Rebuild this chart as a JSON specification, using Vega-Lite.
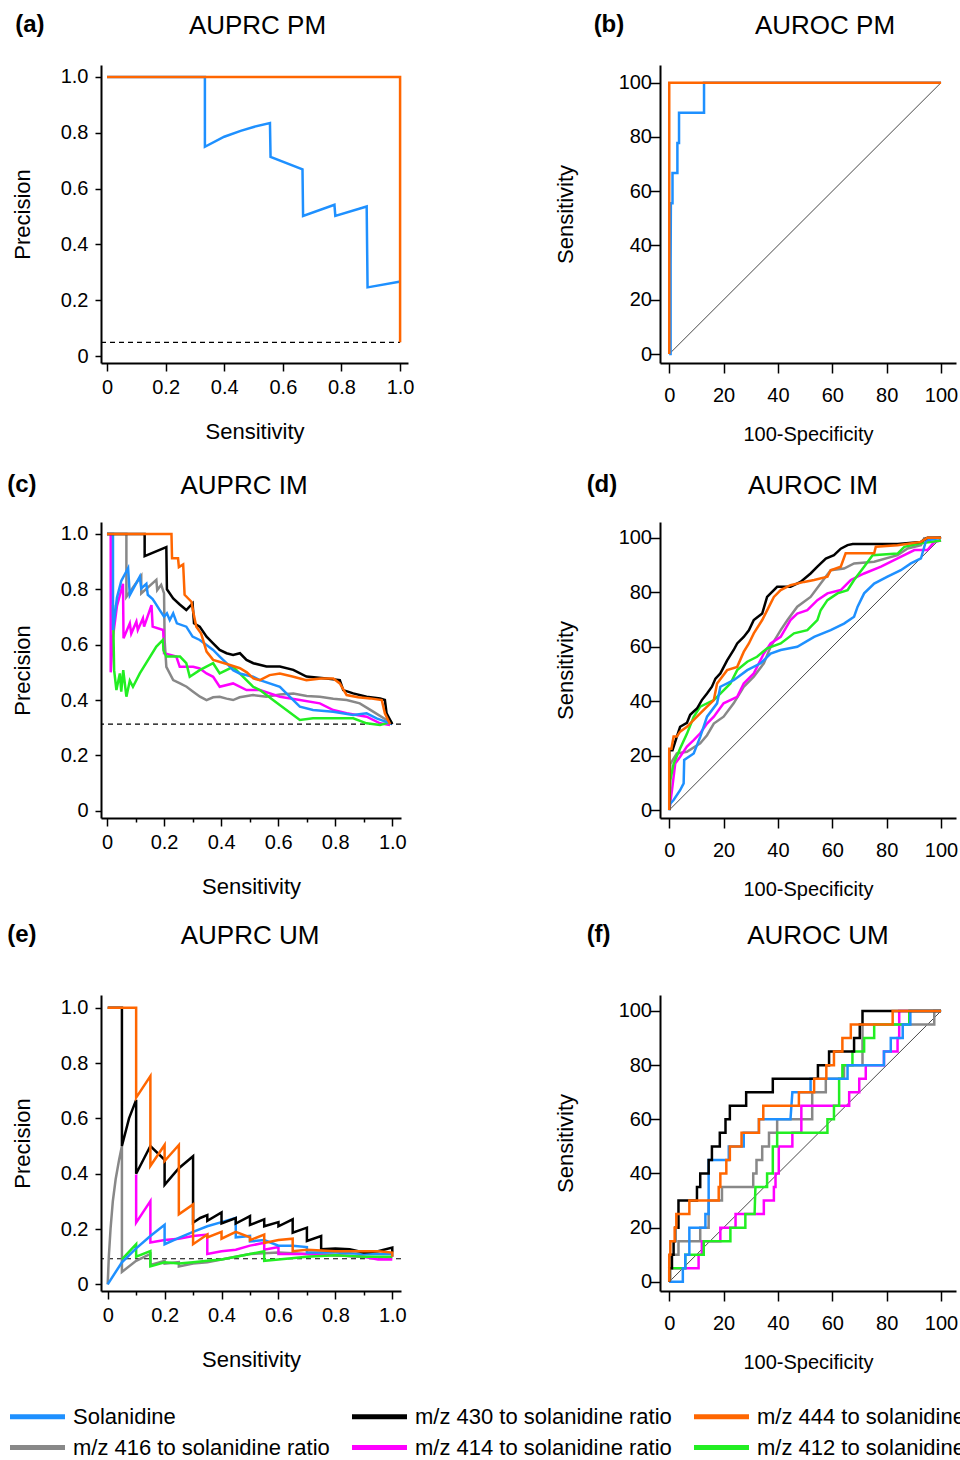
{
"$schema": "https://vega.github.io/schema/vega-lite/v6.json",
"padding": {"left": 7, "top": 13, "right": 5, "bottom": 5},
"config": {
 "font": "Liberation Sans",
 "view": {"stroke": null},
 "axis": {"grid": false, "domainColor": "#000", "domainWidth": 2, "tickColor": "#000", "tickWidth": 1.5, "labelFont": "Liberation Sans", "labelFontSize": 20, "labelColor": "#000", "titleFont": "Liberation Sans", "titleFontSize": 22, "titleFontWeight": "normal", "titleColor": "#000", "labelFlush": false, "labelOverlap": false},
 "title": {"font": "Liberation Sans", "color": "#000"}
},
"datasets": {
 "a": [
  {"s":"sol","x":0,"y":1},{"s":"sol","x":0.334,"y":1},{"s":"sol","x":0.334,"y":0.75},{"s":"sol","x":0.4,"y":0.786},{"s":"sol","x":0.456,"y":0.807},{"s":"sol","x":0.5,"y":0.821},{"s":"sol","x":0.556,"y":0.835},{"s":"sol","x":0.558,"y":0.714},{"s":"sol","x":0.667,"y":0.669},{"s":"sol","x":0.669,"y":0.502},{"s":"sol","x":0.776,"y":0.542},{"s":"sol","x":0.779,"y":0.502},{"s":"sol","x":0.886,"y":0.536},{"s":"sol","x":0.889,"y":0.246},{"s":"sol","x":0.997,"y":0.266},
  {"s":"444","x":0,"y":1},{"s":"444","x":1,"y":1},{"s":"444","x":1,"y":0.049}
 ],
 "b": [
  {"s":"sol","x":0,"y":0},{"s":"sol","x":0.5,"y":0},{"s":"sol","x":0.5,"y":33},{"s":"sol","x":0.6,"y":55.6},{"s":"sol","x":1.2,"y":55.6},{"s":"sol","x":1.2,"y":66.7},{"s":"sol","x":3,"y":66.7},{"s":"sol","x":3,"y":77.8},{"s":"sol","x":3.6,"y":77.8},{"s":"sol","x":3.6,"y":88.9},{"s":"sol","x":12.8,"y":88.9},{"s":"sol","x":12.8,"y":100},{"s":"sol","x":100,"y":100},
  {"s":"444","x":0,"y":0},{"s":"444","x":0,"y":100},{"s":"444","x":100,"y":100}
 ],
 "c": [
  {"s":"416","x":0,"y":1},{"s":"416","x":0.068,"y":1},{"s":"416","x":0.068,"y":0.773},{"s":"416","x":0.12,"y":0.848},{"s":"416","x":0.12,"y":0.785},{"s":"416","x":0.173,"y":0.834},{"s":"416","x":0.176,"y":0.797},{"s":"416","x":0.19,"y":0.816},{"s":"416","x":0.2,"y":0.785},{"s":"416","x":0.202,"y":0.617},{"s":"416","x":0.208,"y":0.52},{"s":"416","x":0.232,"y":0.472},{"s":"416","x":0.256,"y":0.46},{"s":"416","x":0.279,"y":0.448},{"s":"416","x":0.302,"y":0.43},{"s":"416","x":0.326,"y":0.412},{"s":"416","x":0.349,"y":0.4},{"s":"416","x":0.372,"y":0.41},{"s":"416","x":0.395,"y":0.412},{"s":"416","x":0.419,"y":0.405},{"s":"416","x":0.442,"y":0.4},{"s":"416","x":0.465,"y":0.41},{"s":"416","x":0.512,"y":0.418},{"s":"416","x":0.559,"y":0.412},{"s":"416","x":0.606,"y":0.42},{"s":"416","x":0.653,"y":0.424},{"s":"416","x":0.7,"y":0.415},{"s":"416","x":0.746,"y":0.412},{"s":"416","x":0.793,"y":0.405},{"s":"416","x":0.84,"y":0.4},{"s":"416","x":0.886,"y":0.388},{"s":"416","x":0.933,"y":0.358},{"s":"416","x":0.98,"y":0.328},{"s":"416","x":1,"y":0.313},
  {"s":"414","x":0.013,"y":1},{"s":"414","x":0.013,"y":0.5},{"s":"414","x":0.02,"y":0.62},{"s":"414","x":0.035,"y":0.74},{"s":"414","x":0.056,"y":0.82},{"s":"414","x":0.058,"y":0.623},{"s":"414","x":0.08,"y":0.677},{"s":"414","x":0.085,"y":0.64},{"s":"414","x":0.103,"y":0.683},{"s":"414","x":0.108,"y":0.653},{"s":"414","x":0.126,"y":0.695},{"s":"414","x":0.13,"y":0.665},{"s":"414","x":0.156,"y":0.743},{"s":"414","x":0.16,"y":0.665},{"s":"414","x":0.197,"y":0.653},{"s":"414","x":0.2,"y":0.569},{"s":"414","x":0.243,"y":0.557},{"s":"414","x":0.255,"y":0.52},{"s":"414","x":0.302,"y":0.52},{"s":"414","x":0.325,"y":0.514},{"s":"414","x":0.349,"y":0.496},{"s":"414","x":0.372,"y":0.484},{"s":"414","x":0.395,"y":0.448},{"s":"414","x":0.442,"y":0.46},{"s":"414","x":0.489,"y":0.436},{"s":"414","x":0.536,"y":0.436},{"s":"414","x":0.606,"y":0.412},{"s":"414","x":0.676,"y":0.4},{"s":"414","x":0.746,"y":0.388},{"s":"414","x":0.793,"y":0.364},{"s":"414","x":0.84,"y":0.352},{"s":"414","x":0.91,"y":0.34},{"s":"414","x":0.957,"y":0.316},{"s":"414","x":0.992,"y":0.31},
  {"s":"412","x":0.021,"y":0.743},{"s":"412","x":0.025,"y":0.508},{"s":"412","x":0.033,"y":0.436},{"s":"412","x":0.045,"y":0.496},{"s":"412","x":0.05,"y":0.43},{"s":"412","x":0.057,"y":0.508},{"s":"412","x":0.068,"y":0.412},{"s":"412","x":0.08,"y":0.47},{"s":"412","x":0.091,"y":0.448},{"s":"412","x":0.115,"y":0.496},{"s":"412","x":0.173,"y":0.593},{"s":"412","x":0.196,"y":0.617},{"s":"412","x":0.198,"y":0.58},{"s":"412","x":0.208,"y":0.557},{"s":"412","x":0.256,"y":0.557},{"s":"412","x":0.278,"y":0.533},{"s":"412","x":0.29,"y":0.484},{"s":"412","x":0.325,"y":0.508},{"s":"412","x":0.372,"y":0.533},{"s":"412","x":0.395,"y":0.496},{"s":"412","x":0.442,"y":0.52},{"s":"412","x":0.465,"y":0.496},{"s":"412","x":0.512,"y":0.448},{"s":"412","x":0.536,"y":0.436},{"s":"412","x":0.582,"y":0.4},{"s":"412","x":0.629,"y":0.364},{"s":"412","x":0.676,"y":0.328},{"s":"412","x":0.722,"y":0.334},{"s":"412","x":0.793,"y":0.334},{"s":"412","x":0.863,"y":0.334},{"s":"412","x":0.91,"y":0.316},{"s":"412","x":0.957,"y":0.31},{"s":"412","x":1,"y":0.322},
  {"s":"sol","x":0,"y":1},{"s":"sol","x":0.021,"y":1},{"s":"sol","x":0.021,"y":0.653},{"s":"sol","x":0.035,"y":0.77},{"s":"sol","x":0.05,"y":0.83},{"s":"sol","x":0.074,"y":0.876},{"s":"sol","x":0.08,"y":0.779},{"s":"sol","x":0.115,"y":0.846},{"s":"sol","x":0.12,"y":0.803},{"s":"sol","x":0.138,"y":0.82},{"s":"sol","x":0.143,"y":0.78},{"s":"sol","x":0.16,"y":0.765},{"s":"sol","x":0.17,"y":0.749},{"s":"sol","x":0.185,"y":0.725},{"s":"sol","x":0.2,"y":0.701},{"s":"sol","x":0.21,"y":0.713},{"s":"sol","x":0.22,"y":0.689},{"s":"sol","x":0.232,"y":0.713},{"s":"sol","x":0.245,"y":0.677},{"s":"sol","x":0.278,"y":0.665},{"s":"sol","x":0.3,"y":0.629},{"s":"sol","x":0.325,"y":0.617},{"s":"sol","x":0.349,"y":0.599},{"s":"sol","x":0.372,"y":0.581},{"s":"sol","x":0.395,"y":0.557},{"s":"sol","x":0.419,"y":0.533},{"s":"sol","x":0.442,"y":0.508},{"s":"sol","x":0.465,"y":0.496},{"s":"sol","x":0.512,"y":0.484},{"s":"sol","x":0.536,"y":0.472},{"s":"sol","x":0.606,"y":0.448},{"s":"sol","x":0.629,"y":0.424},{"s":"sol","x":0.676,"y":0.376},{"s":"sol","x":0.722,"y":0.364},{"s":"sol","x":0.793,"y":0.358},{"s":"sol","x":0.863,"y":0.346},{"s":"sol","x":0.91,"y":0.352},{"s":"sol","x":0.945,"y":0.334},{"s":"sol","x":1,"y":0.313},
  {"s":"430","x":0,"y":1},{"s":"430","x":0.132,"y":1},{"s":"430","x":0.132,"y":0.92},{"s":"430","x":0.208,"y":0.952},{"s":"430","x":0.21,"y":0.8},{"s":"430","x":0.232,"y":0.767},{"s":"430","x":0.255,"y":0.745},{"s":"430","x":0.278,"y":0.725},{"s":"430","x":0.3,"y":0.749},{"s":"430","x":0.305,"y":0.677},{"s":"430","x":0.325,"y":0.665},{"s":"430","x":0.349,"y":0.629},{"s":"430","x":0.372,"y":0.605},{"s":"430","x":0.395,"y":0.581},{"s":"430","x":0.419,"y":0.569},{"s":"430","x":0.442,"y":0.563},{"s":"430","x":0.466,"y":0.569},{"s":"430","x":0.489,"y":0.545},{"s":"430","x":0.513,"y":0.533},{"s":"430","x":0.559,"y":0.521},{"s":"430","x":0.606,"y":0.521},{"s":"430","x":0.653,"y":0.509},{"s":"430","x":0.699,"y":0.485},{"s":"430","x":0.769,"y":0.478},{"s":"430","x":0.816,"y":0.472},{"s":"430","x":0.828,"y":0.436},{"s":"430","x":0.863,"y":0.424},{"s":"430","x":0.91,"y":0.412},{"s":"430","x":0.957,"y":0.406},{"s":"430","x":0.974,"y":0.4},{"s":"430","x":0.98,"y":0.352},{"s":"430","x":1,"y":0.313},
  {"s":"444","x":0,"y":1},{"s":"444","x":0.226,"y":1},{"s":"444","x":0.228,"y":0.912},{"s":"444","x":0.249,"y":0.912},{"s":"444","x":0.252,"y":0.88},{"s":"444","x":0.267,"y":0.89},{"s":"444","x":0.272,"y":0.78},{"s":"444","x":0.296,"y":0.755},{"s":"444","x":0.302,"y":0.72},{"s":"444","x":0.313,"y":0.665},{"s":"444","x":0.33,"y":0.64},{"s":"444","x":0.349,"y":0.575},{"s":"444","x":0.372,"y":0.545},{"s":"444","x":0.42,"y":0.53},{"s":"444","x":0.466,"y":0.515},{"s":"444","x":0.49,"y":0.5},{"s":"444","x":0.513,"y":0.478},{"s":"444","x":0.536,"y":0.472},{"s":"444","x":0.57,"y":0.49},{"s":"444","x":0.606,"y":0.496},{"s":"444","x":0.65,"y":0.485},{"s":"444","x":0.699,"y":0.472},{"s":"444","x":0.75,"y":0.478},{"s":"444","x":0.793,"y":0.478},{"s":"444","x":0.816,"y":0.46},{"s":"444","x":0.84,"y":0.418},{"s":"444","x":0.88,"y":0.41},{"s":"444","x":0.922,"y":0.406},{"s":"444","x":0.963,"y":0.4},{"s":"444","x":0.974,"y":0.352},{"s":"444","x":0.992,"y":0.313}
 ],
 "d": [
  {"s":"416","x":0,"y":0},{"s":"416","x":0.4,"y":17},{"s":"416","x":2.8,"y":20.8},{"s":"416","x":6.5,"y":21.4},{"s":"416","x":11.4,"y":24.5},{"s":"416","x":13.9,"y":27.5},{"s":"416","x":16.4,"y":31.8},{"s":"416","x":20,"y":34.3},{"s":"416","x":23.7,"y":39.2},{"s":"416","x":27.4,"y":45.3},{"s":"416","x":31.1,"y":49},{"s":"416","x":34.8,"y":53.9},{"s":"416","x":37.3,"y":60},{"s":"416","x":41,"y":66.1},{"s":"416","x":43.5,"y":69.8},{"s":"416","x":47.1,"y":74.7},{"s":"416","x":52,"y":78.3},{"s":"416","x":55.7,"y":83.2},{"s":"416","x":59.4,"y":88.1},{"s":"416","x":64.3,"y":88.7},{"s":"416","x":68,"y":90.6},{"s":"416","x":75.4,"y":91.2},{"s":"416","x":84,"y":93.6},{"s":"416","x":87.7,"y":96.1},{"s":"416","x":92.6,"y":97.3},{"s":"416","x":93.8,"y":99.8},{"s":"416","x":100,"y":100},
  {"s":"414","x":0,"y":0},{"s":"414","x":1,"y":7.3},{"s":"414","x":2.2,"y":17.1},{"s":"414","x":4,"y":19.6},{"s":"414","x":6.5,"y":23.3},{"s":"414","x":9,"y":25.7},{"s":"414","x":11.4,"y":28.2},{"s":"414","x":13.9,"y":31.8},{"s":"414","x":16.4,"y":34.3},{"s":"414","x":20,"y":39.2},{"s":"414","x":25,"y":41.6},{"s":"414","x":27.4,"y":46.5},{"s":"414","x":31.1,"y":50.2},{"s":"414","x":34.8,"y":57.5},{"s":"414","x":37.3,"y":61.2},{"s":"414","x":41,"y":63.6},{"s":"414","x":44.6,"y":69.8},{"s":"414","x":47.1,"y":72.2},{"s":"414","x":50.8,"y":73.4},{"s":"414","x":54.5,"y":77.1},{"s":"414","x":58.2,"y":79.6},{"s":"414","x":63.1,"y":80.8},{"s":"414","x":66.8,"y":84.5},{"s":"414","x":71.7,"y":86.9},{"s":"414","x":77.9,"y":89.4},{"s":"414","x":84,"y":92.4},{"s":"414","x":90.2,"y":95.5},{"s":"414","x":95,"y":95.5},{"s":"414","x":97.5,"y":98.5},{"s":"414","x":100,"y":99},
  {"s":"412","x":0,"y":0},{"s":"412","x":0.4,"y":11},{"s":"412","x":1.6,"y":17},{"s":"412","x":4,"y":22.6},{"s":"412","x":6.5,"y":28},{"s":"412","x":9,"y":34.3},{"s":"412","x":11.4,"y":38},{"s":"412","x":16.4,"y":40.4},{"s":"412","x":18.8,"y":42.8},{"s":"412","x":22.5,"y":46.5},{"s":"412","x":25,"y":51.4},{"s":"412","x":28.7,"y":54.5},{"s":"412","x":32.3,"y":56.3},{"s":"412","x":36,"y":59.4},{"s":"412","x":41,"y":61.2},{"s":"412","x":45.9,"y":64.9},{"s":"412","x":50.8,"y":66.1},{"s":"412","x":54.5,"y":69.8},{"s":"412","x":55.7,"y":73.4},{"s":"412","x":58.2,"y":77.1},{"s":"412","x":61.9,"y":79.6},{"s":"412","x":65.6,"y":80.8},{"s":"412","x":68,"y":84.5},{"s":"412","x":71.7,"y":89.4},{"s":"412","x":74.8,"y":93.6},{"s":"412","x":84,"y":94.2},{"s":"412","x":86.5,"y":96.7},{"s":"412","x":92.6,"y":98},{"s":"412","x":100,"y":99},
  {"s":"sol","x":0,"y":0},{"s":"sol","x":0.4,"y":2.4},{"s":"sol","x":1.6,"y":3.7},{"s":"sol","x":4,"y":7.3},{"s":"sol","x":5.3,"y":9.8},{"s":"sol","x":5.5,"y":18.4},{"s":"sol","x":9,"y":20.8},{"s":"sol","x":11.4,"y":26.9},{"s":"sol","x":13.9,"y":34.3},{"s":"sol","x":17.6,"y":39.2},{"s":"sol","x":18.8,"y":45.3},{"s":"sol","x":23.7,"y":47.7},{"s":"sol","x":28.7,"y":51.4},{"s":"sol","x":33.6,"y":53.9},{"s":"sol","x":37.3,"y":57.5},{"s":"sol","x":41,"y":58.8},{"s":"sol","x":47.1,"y":60},{"s":"sol","x":53.3,"y":63.6},{"s":"sol","x":59.4,"y":66.1},{"s":"sol","x":64.3,"y":68.5},{"s":"sol","x":68,"y":71},{"s":"sol","x":69.3,"y":74.7},{"s":"sol","x":71.7,"y":79.6},{"s":"sol","x":75.4,"y":83.2},{"s":"sol","x":80.3,"y":85.7},{"s":"sol","x":85.2,"y":88.1},{"s":"sol","x":88.9,"y":90.6},{"s":"sol","x":92.6,"y":92.4},{"s":"sol","x":94.5,"y":99},{"s":"sol","x":100,"y":100},
  {"s":"430","x":0,"y":0},{"s":"430","x":0,"y":22},{"s":"430","x":1.2,"y":22},{"s":"430","x":2.8,"y":27},{"s":"430","x":4,"y":30.6},{"s":"430","x":6.5,"y":32},{"s":"430","x":7.7,"y":35},{"s":"430","x":10.2,"y":37.3},{"s":"430","x":12,"y":40.4},{"s":"430","x":13.9,"y":42.8},{"s":"430","x":15.7,"y":45.3},{"s":"430","x":17,"y":48.3},{"s":"430","x":18.8,"y":50.2},{"s":"430","x":21.3,"y":55},{"s":"430","x":23.7,"y":58.8},{"s":"430","x":25,"y":61.2},{"s":"430","x":27.4,"y":63.6},{"s":"430","x":29.3,"y":66},{"s":"430","x":31.1,"y":69.8},{"s":"430","x":34.2,"y":72.2},{"s":"430","x":36,"y":78.3},{"s":"430","x":39.7,"y":82},{"s":"430","x":44.6,"y":82},{"s":"430","x":48.3,"y":83.8},{"s":"430","x":52,"y":86.9},{"s":"430","x":54.5,"y":89.4},{"s":"430","x":57.6,"y":92.4},{"s":"430","x":60.6,"y":93.6},{"s":"430","x":63.1,"y":96},{"s":"430","x":65.6,"y":97.3},{"s":"430","x":67.5,"y":97.7},{"s":"430","x":84,"y":97.7},{"s":"430","x":92.6,"y":98.5},{"s":"430","x":95,"y":100},{"s":"430","x":100,"y":100},
  {"s":"444","x":0,"y":0},{"s":"444","x":0,"y":22.5},{"s":"444","x":0.8,"y":22.5},{"s":"444","x":1.6,"y":27},{"s":"444","x":2.8,"y":27},{"s":"444","x":4,"y":28.8},{"s":"444","x":6.5,"y":30.6},{"s":"444","x":10.2,"y":34.3},{"s":"444","x":13.9,"y":38},{"s":"444","x":16.4,"y":40.4},{"s":"444","x":17.6,"y":46.5},{"s":"444","x":21.3,"y":51.4},{"s":"444","x":25,"y":52.6},{"s":"444","x":27.4,"y":58.1},{"s":"444","x":29.3,"y":61.2},{"s":"444","x":31.1,"y":64.9},{"s":"444","x":34.2,"y":69.8},{"s":"444","x":36.7,"y":74.7},{"s":"444","x":38.5,"y":78.3},{"s":"444","x":41,"y":80.8},{"s":"444","x":44.6,"y":82.6},{"s":"444","x":49.6,"y":83.8},{"s":"444","x":53.3,"y":84.5},{"s":"444","x":58.2,"y":85.7},{"s":"444","x":59.4,"y":88.1},{"s":"444","x":63.1,"y":89.4},{"s":"444","x":64.9,"y":94.3},{"s":"444","x":75.4,"y":94.3},{"s":"444","x":76,"y":96.7},{"s":"444","x":84,"y":97.3},{"s":"444","x":92.6,"y":98.5},{"s":"444","x":95,"y":100},{"s":"444","x":100,"y":100}
 ],
 "e": [
  {"s":"416","x":0,"y":0},{"s":"416","x":0.004,"y":0.1},{"s":"416","x":0.01,"y":0.2},{"s":"416","x":0.018,"y":0.3},{"s":"416","x":0.028,"y":0.38},{"s":"416","x":0.04,"y":0.45},{"s":"416","x":0.05,"y":0.5},{"s":"416","x":0.05,"y":0.045},{"s":"416","x":0.1,"y":0.085},{"s":"416","x":0.15,"y":0.11},{"s":"416","x":0.15,"y":0.07},{"s":"416","x":0.2,"y":0.085},{"s":"416","x":0.2,"y":0.075},{"s":"416","x":0.25,"y":0.08},{"s":"416","x":0.25,"y":0.065},{"s":"416","x":0.3,"y":0.075},{"s":"416","x":0.35,"y":0.08},{"s":"416","x":0.4,"y":0.09},{"s":"416","x":0.5,"y":0.11},{"s":"416","x":0.6,"y":0.115},{"s":"416","x":0.7,"y":0.11},{"s":"416","x":0.8,"y":0.105},{"s":"416","x":0.9,"y":0.1},{"s":"416","x":1,"y":0.095},
  {"s":"414","x":0.1,"y":0.397},{"s":"414","x":0.1,"y":0.223},{"s":"414","x":0.15,"y":0.301},{"s":"414","x":0.15,"y":0.151},{"s":"414","x":0.2,"y":0.16},{"s":"414","x":0.25,"y":0.165},{"s":"414","x":0.3,"y":0.175},{"s":"414","x":0.35,"y":0.18},{"s":"414","x":0.35,"y":0.11},{"s":"414","x":0.4,"y":0.12},{"s":"414","x":0.45,"y":0.125},{"s":"414","x":0.5,"y":0.14},{"s":"414","x":0.55,"y":0.15},{"s":"414","x":0.55,"y":0.125},{"s":"414","x":0.6,"y":0.135},{"s":"414","x":0.6,"y":0.11},{"s":"414","x":0.7,"y":0.11},{"s":"414","x":0.8,"y":0.105},{"s":"414","x":0.9,"y":0.1},{"s":"414","x":0.95,"y":0.09},{"s":"414","x":1,"y":0.09},
  {"s":"412","x":0.05,"y":0.09},{"s":"412","x":0.1,"y":0.145},{"s":"412","x":0.1,"y":0.1},{"s":"412","x":0.15,"y":0.12},{"s":"412","x":0.15,"y":0.065},{"s":"412","x":0.2,"y":0.08},{"s":"412","x":0.25,"y":0.075},{"s":"412","x":0.3,"y":0.08},{"s":"412","x":0.35,"y":0.085},{"s":"412","x":0.4,"y":0.09},{"s":"412","x":0.5,"y":0.11},{"s":"412","x":0.55,"y":0.12},{"s":"412","x":0.55,"y":0.085},{"s":"412","x":0.6,"y":0.09},{"s":"412","x":0.7,"y":0.1},{"s":"412","x":0.8,"y":0.105},{"s":"412","x":0.9,"y":0.1},{"s":"412","x":1,"y":0.1},
  {"s":"sol","x":0,"y":0},{"s":"sol","x":0.05,"y":0.08},{"s":"sol","x":0.1,"y":0.13},{"s":"sol","x":0.15,"y":0.175},{"s":"sol","x":0.2,"y":0.215},{"s":"sol","x":0.2,"y":0.145},{"s":"sol","x":0.25,"y":0.168},{"s":"sol","x":0.3,"y":0.19},{"s":"sol","x":0.35,"y":0.21},{"s":"sol","x":0.4,"y":0.225},{"s":"sol","x":0.45,"y":0.24},{"s":"sol","x":0.45,"y":0.17},{"s":"sol","x":0.5,"y":0.175},{"s":"sol","x":0.5,"y":0.155},{"s":"sol","x":0.55,"y":0.16},{"s":"sol","x":0.6,"y":0.14},{"s":"sol","x":0.65,"y":0.14},{"s":"sol","x":0.7,"y":0.135},{"s":"sol","x":0.7,"y":0.115},{"s":"sol","x":0.8,"y":0.115},{"s":"sol","x":0.9,"y":0.11},{"s":"sol","x":1,"y":0.11},{"s":"sol","x":1,"y":0.1},
  {"s":"430","x":0,"y":1},{"s":"430","x":0.05,"y":1},{"s":"430","x":0.05,"y":0.5},{"s":"430","x":0.075,"y":0.6},{"s":"430","x":0.1,"y":0.667},{"s":"430","x":0.1,"y":0.4},{"s":"430","x":0.15,"y":0.5},{"s":"430","x":0.2,"y":0.45},{"s":"430","x":0.2,"y":0.36},{"s":"430","x":0.25,"y":0.42},{"s":"430","x":0.3,"y":0.463},{"s":"430","x":0.3,"y":0.223},{"s":"430","x":0.325,"y":0.24},{"s":"430","x":0.35,"y":0.25},{"s":"430","x":0.35,"y":0.23},{"s":"430","x":0.4,"y":0.26},{"s":"430","x":0.4,"y":0.22},{"s":"430","x":0.45,"y":0.24},{"s":"430","x":0.45,"y":0.22},{"s":"430","x":0.5,"y":0.247},{"s":"430","x":0.5,"y":0.215},{"s":"430","x":0.55,"y":0.235},{"s":"430","x":0.55,"y":0.21},{"s":"430","x":0.6,"y":0.225},{"s":"430","x":0.6,"y":0.21},{"s":"430","x":0.65,"y":0.235},{"s":"430","x":0.65,"y":0.187},{"s":"430","x":0.7,"y":0.205},{"s":"430","x":0.7,"y":0.157},{"s":"430","x":0.75,"y":0.175},{"s":"430","x":0.75,"y":0.127},{"s":"430","x":0.8,"y":0.13},{"s":"430","x":0.85,"y":0.127},{"s":"430","x":0.9,"y":0.115},{"s":"430","x":0.95,"y":0.12},{"s":"430","x":1,"y":0.133},{"s":"430","x":1,"y":0.115},
  {"s":"444","x":0,"y":1},{"s":"444","x":0.1,"y":1},{"s":"444","x":0.1,"y":0.675},{"s":"444","x":0.15,"y":0.753},{"s":"444","x":0.15,"y":0.428},{"s":"444","x":0.2,"y":0.504},{"s":"444","x":0.2,"y":0.446},{"s":"444","x":0.25,"y":0.504},{"s":"444","x":0.25,"y":0.253},{"s":"444","x":0.3,"y":0.289},{"s":"444","x":0.3,"y":0.145},{"s":"444","x":0.35,"y":0.18},{"s":"444","x":0.35,"y":0.17},{"s":"444","x":0.4,"y":0.19},{"s":"444","x":0.4,"y":0.165},{"s":"444","x":0.45,"y":0.19},{"s":"444","x":0.5,"y":0.17},{"s":"444","x":0.5,"y":0.16},{"s":"444","x":0.55,"y":0.18},{"s":"444","x":0.55,"y":0.15},{"s":"444","x":0.6,"y":0.16},{"s":"444","x":0.65,"y":0.165},{"s":"444","x":0.65,"y":0.12},{"s":"444","x":0.7,"y":0.125},{"s":"444","x":0.8,"y":0.12},{"s":"444","x":0.9,"y":0.12},{"s":"444","x":0.95,"y":0.12},{"s":"444","x":1,"y":0.115},{"s":"444","x":1,"y":0.1}
 ],
 "f": [
  {"s":"416","x":0,"y":0},{"s":"416","x":0.4,"y":0},{"s":"416","x":0.4,"y":10},{"s":"416","x":3.4,"y":10},{"s":"416","x":3.4,"y":15},{"s":"416","x":11.4,"y":15},{"s":"416","x":11.4,"y":20},{"s":"416","x":14.5,"y":20},{"s":"416","x":14.5,"y":30},{"s":"416","x":19.4,"y":30},{"s":"416","x":19.4,"y":35},{"s":"416","x":30.9,"y":35},{"s":"416","x":30.9,"y":40},{"s":"416","x":32.1,"y":40},{"s":"416","x":32.1,"y":45},{"s":"416","x":34.2,"y":45},{"s":"416","x":34.2,"y":50},{"s":"416","x":36.7,"y":50},{"s":"416","x":36.7,"y":55},{"s":"416","x":39.7,"y":55},{"s":"416","x":39.7,"y":60},{"s":"416","x":52.6,"y":60},{"s":"416","x":52.6,"y":70},{"s":"416","x":57.6,"y":70},{"s":"416","x":57.6,"y":75},{"s":"416","x":64.3,"y":75},{"s":"416","x":64.3,"y":80},{"s":"416","x":71.1,"y":80},{"s":"416","x":71.1,"y":95},{"s":"416","x":97.5,"y":95},{"s":"416","x":97.5,"y":100},{"s":"416","x":100,"y":100},
  {"s":"414","x":0,"y":0},{"s":"414","x":0,"y":5},{"s":"414","x":10.8,"y":5},{"s":"414","x":10.8,"y":10},{"s":"414","x":12,"y":10},{"s":"414","x":12,"y":15},{"s":"414","x":18.8,"y":15},{"s":"414","x":18.8,"y":20},{"s":"414","x":24.4,"y":20},{"s":"414","x":24.4,"y":25},{"s":"414","x":34.8,"y":25},{"s":"414","x":34.8,"y":30},{"s":"414","x":38.5,"y":30},{"s":"414","x":38.5,"y":35},{"s":"414","x":39.1,"y":35},{"s":"414","x":39.1,"y":40},{"s":"414","x":40.3,"y":40},{"s":"414","x":40.3,"y":50},{"s":"414","x":45.3,"y":50},{"s":"414","x":45.3,"y":55},{"s":"414","x":48.6,"y":55},{"s":"414","x":48.6,"y":65},{"s":"414","x":66.2,"y":65},{"s":"414","x":66.2,"y":70},{"s":"414","x":69.9,"y":70},{"s":"414","x":69.9,"y":75},{"s":"414","x":72.3,"y":75},{"s":"414","x":72.3,"y":80},{"s":"414","x":79,"y":80},{"s":"414","x":79,"y":85},{"s":"414","x":84,"y":85},{"s":"414","x":84,"y":90},{"s":"414","x":84.6,"y":90},{"s":"414","x":84.6,"y":100},{"s":"414","x":100,"y":100},
  {"s":"412","x":0,"y":0},{"s":"412","x":0,"y":5},{"s":"412","x":5.9,"y":5},{"s":"412","x":5.9,"y":10},{"s":"412","x":12.7,"y":10},{"s":"412","x":12.7,"y":15},{"s":"412","x":22.5,"y":15},{"s":"412","x":22.5,"y":20},{"s":"412","x":28,"y":20},{"s":"412","x":28,"y":25},{"s":"412","x":31.4,"y":25},{"s":"412","x":31.7,"y":35},{"s":"412","x":36,"y":35},{"s":"412","x":36,"y":40},{"s":"412","x":38.1,"y":40},{"s":"412","x":38.1,"y":50},{"s":"412","x":39.7,"y":50},{"s":"412","x":39.7,"y":55},{"s":"412","x":58.2,"y":55},{"s":"412","x":58.2,"y":60},{"s":"412","x":60.6,"y":60},{"s":"412","x":60.6,"y":65},{"s":"412","x":62.5,"y":65},{"s":"412","x":62.5,"y":75},{"s":"412","x":63.7,"y":75},{"s":"412","x":63.7,"y":80},{"s":"412","x":67.4,"y":80},{"s":"412","x":67.4,"y":85},{"s":"412","x":71.7,"y":85},{"s":"412","x":71.7,"y":90},{"s":"412","x":75.4,"y":90},{"s":"412","x":75.4,"y":95},{"s":"412","x":88.3,"y":95},{"s":"412","x":88.3,"y":100},{"s":"412","x":100,"y":100},
  {"s":"sol","x":0,"y":0},{"s":"sol","x":5,"y":0},{"s":"sol","x":5,"y":5},{"s":"sol","x":5.9,"y":5},{"s":"sol","x":5.9,"y":10},{"s":"sol","x":7.4,"y":10},{"s":"sol","x":7.4,"y":20},{"s":"sol","x":13.3,"y":20},{"s":"sol","x":13.3,"y":25},{"s":"sol","x":14.5,"y":25},{"s":"sol","x":14.5,"y":45},{"s":"sol","x":21.9,"y":45},{"s":"sol","x":21.9,"y":50},{"s":"sol","x":27.4,"y":50},{"s":"sol","x":27.4,"y":55},{"s":"sol","x":33,"y":55},{"s":"sol","x":33,"y":60},{"s":"sol","x":44.6,"y":60},{"s":"sol","x":45.3,"y":70},{"s":"sol","x":52,"y":70},{"s":"sol","x":52,"y":75},{"s":"sol","x":65.6,"y":75},{"s":"sol","x":65.6,"y":80},{"s":"sol","x":79,"y":80},{"s":"sol","x":79,"y":85},{"s":"sol","x":81.5,"y":85},{"s":"sol","x":81.5,"y":90},{"s":"sol","x":85.9,"y":90},{"s":"sol","x":85.9,"y":95},{"s":"sol","x":88.7,"y":95},{"s":"sol","x":88.7,"y":100},{"s":"sol","x":100,"y":100},
  {"s":"430","x":0,"y":0},{"s":"430","x":0,"y":5},{"s":"430","x":1,"y":5},{"s":"430","x":1,"y":10},{"s":"430","x":1.6,"y":10},{"s":"430","x":1.6,"y":15},{"s":"430","x":2.2,"y":15},{"s":"430","x":2.2,"y":20},{"s":"430","x":3.4,"y":20},{"s":"430","x":3.4,"y":30},{"s":"430","x":10.2,"y":30},{"s":"430","x":10.2,"y":35},{"s":"430","x":11.4,"y":35},{"s":"430","x":11.4,"y":40},{"s":"430","x":14.5,"y":40},{"s":"430","x":14.5,"y":45},{"s":"430","x":15.7,"y":45},{"s":"430","x":15.7,"y":50},{"s":"430","x":18.6,"y":50},{"s":"430","x":18.6,"y":55},{"s":"430","x":20.7,"y":55},{"s":"430","x":20.7,"y":60},{"s":"430","x":22.3,"y":60},{"s":"430","x":22.3,"y":65},{"s":"430","x":28.3,"y":65},{"s":"430","x":28.3,"y":70},{"s":"430","x":38.1,"y":70},{"s":"430","x":38.1,"y":75},{"s":"430","x":54.7,"y":75},{"s":"430","x":54.7,"y":80},{"s":"430","x":58.8,"y":80},{"s":"430","x":58.8,"y":85},{"s":"430","x":68,"y":85},{"s":"430","x":68,"y":90},{"s":"430","x":70.1,"y":90},{"s":"430","x":70.1,"y":95},{"s":"430","x":71.1,"y":95},{"s":"430","x":71.1,"y":100},{"s":"430","x":100,"y":100},
  {"s":"444","x":0,"y":0},{"s":"444","x":0,"y":10},{"s":"444","x":0.4,"y":10},{"s":"444","x":0.4,"y":15},{"s":"444","x":2,"y":15},{"s":"444","x":2,"y":20},{"s":"444","x":2.6,"y":20},{"s":"444","x":2.6,"y":25},{"s":"444","x":7.4,"y":25},{"s":"444","x":7.4,"y":30},{"s":"444","x":18.2,"y":30},{"s":"444","x":18.2,"y":35},{"s":"444","x":18.8,"y":35},{"s":"444","x":18.8,"y":40},{"s":"444","x":21,"y":40},{"s":"444","x":21,"y":45},{"s":"444","x":22.3,"y":45},{"s":"444","x":22.3,"y":50},{"s":"444","x":26.6,"y":50},{"s":"444","x":26.6,"y":55},{"s":"444","x":33,"y":55},{"s":"444","x":33,"y":60},{"s":"444","x":34.6,"y":60},{"s":"444","x":34.6,"y":65},{"s":"444","x":47.7,"y":65},{"s":"444","x":47.7,"y":70},{"s":"444","x":53.3,"y":70},{"s":"444","x":53.3,"y":75},{"s":"444","x":57.8,"y":75},{"s":"444","x":57.8,"y":80},{"s":"444","x":60.6,"y":80},{"s":"444","x":60.6,"y":85},{"s":"444","x":63.7,"y":85},{"s":"444","x":63.7,"y":90},{"s":"444","x":66.8,"y":90},{"s":"444","x":66.8,"y":95},{"s":"444","x":82.2,"y":95},{"s":"444","x":82.2,"y":100},{"s":"444","x":100,"y":100}
 ]
},
"spacing": 29,
"vconcat": [
 {"spacing": 140, "hconcat": [
  {"title": {"text": "(a)", "anchor": "start", "frame": "bounds", "fontSize": 24, "fontWeight": "bold", "offset": 0, "dx": 4, "dy": 24},
   "vconcat": [{
    "title": {"text": "AUPRC PM", "frame": "group", "anchor": "middle", "fontSize": 26, "fontWeight": "normal", "offset": 26, "dx": 3},
    "width": 307, "height": 298,
    "layer": [
     {"data": {"values": [{"x": -0.0205, "x2": 1, "y": 0.049}]},
      "mark": {"type": "rule", "color": "#000", "strokeWidth": 1.2, "strokeDash": [5, 4]},
      "encoding": {
       "x": {"field": "x", "type": "quantitative", "scale": {"domain": [-0.0205, 1.027], "nice": false, "zero": false}, "axis": {"title": "Sensitivity", "values": [0,0.1,0.2,0.3,0.4,0.5,0.6,0.7,0.8,0.9,1], "labelExpr": "datum.value == 0 ? '0' : (round(datum.value*10) % 2 == 0 ? format(datum.value, '.1f') : '')", "tickSize": {"condition": {"test": "round(datum.value*10) % 2 == 0", "value": 8}, "value": 4}, "labelPadding": 6, "titlePadding": 24}},
       "x2": {"field": "x2"},
       "y": {"field": "y", "type": "quantitative", "scale": {"domain": [-0.025, 1.043], "nice": false, "zero": false}, "axis": {"title": "Precision", "values": [0,0.1,0.2,0.3,0.4,0.5,0.6,0.7,0.8,0.9,1], "labelExpr": "datum.value == 0 ? '0' : (round(datum.value*10) % 2 == 0 ? format(datum.value, '.1f') : '')", "tickSize": {"condition": {"test": "round(datum.value*10) % 2 == 0", "value": 6}, "value": 3}, "labelPadding": 7, "titlePadding": 26}}
      }},
     {"data": {"name": "a"},
      "mark": {"type": "line", "strokeWidth": 2.5, "strokeJoin": "miter", "strokeCap": "butt"},
      "encoding": {
       "x": {"field": "x", "type": "quantitative", "scale": {"domain": [-0.0205, 1.027], "nice": false, "zero": false}},
       "y": {"field": "y", "type": "quantitative", "scale": {"domain": [-0.025, 1.043], "nice": false, "zero": false}},
       "color": {"field": "s", "type": "nominal", "scale": {"domain": ["sol","430","444","416","414","412"], "range": ["#1e90ff","#000000","#ff6600","#888888","#ff00ff","#22ee22"]}, "legend": {"title": null, "orient": "none", "legendX": -80, "legendY": 1335, "columns": 3, "direction": "horizontal", "symbolType": "M-2,0H2", "symbolSize": 756, "symbolStrokeWidth": 5, "labelFontSize": 22, "labelFont": "Liberation Sans", "labelColor": "#000", "labelOffset": 19, "columnPadding": 12, "rowPadding": 3, "labelLimit": 0, "labelExpr": "datum.label == 'sol' ? 'Solanidine' : 'm/z ' + datum.label + ' to solanidine ratio'"}},
       "order": {"value": null}
      }}
    ]
   }]
  },
  {"title": {"text": "(b)", "anchor": "start", "frame": "bounds", "fontSize": 24, "fontWeight": "bold", "offset": 0, "dx": 39, "dy": 24},
   "vconcat": [{
    "title": {"text": "AUROC PM", "frame": "group", "anchor": "middle", "fontSize": 26, "fontWeight": "normal", "offset": 26, "dx": 17},
    "width": 296, "height": 298,
    "layer": [
     {"data": {"values": [{"x": 0, "y": 0}, {"x": 100, "y": 100}]},
      "mark": {"type": "line", "color": "#333", "strokeWidth": 0.9},
      "encoding": {
       "x": {"field": "x", "type": "quantitative", "scale": {"domain": [-3.4, 105.5], "nice": false, "zero": false}, "axis": {"title": "100-Specificity", "titleFontSize": 20, "values": [0,5,10,15,20,25,30,35,40,45,50,55,60,65,70,75,80,85,90,95,100], "labelExpr": "datum.value % 20 == 0 ? datum.label : ''", "tickSize": {"condition": {"test": "datum.value % 20 == 0", "value": 10}, "value": 5}, "labelPadding": 12, "titlePadding": 19}},
       "y": {"field": "y", "type": "quantitative", "scale": {"domain": [-3.3, 106.5], "nice": false, "zero": false}, "axis": {"title": "Sensitivity", "values": [0,5,10,15,20,25,30,35,40,45,50,55,60,65,70,75,80,85,90,95,100], "labelExpr": "datum.value % 20 == 0 ? datum.label : ''", "tickSize": {"condition": {"test": "datum.value % 20 == 0", "value": 10}, "value": 5}, "labelPadding": -1.5, "titlePadding": 40.5}}
      }},
     {"data": {"name": "b"},
      "mark": {"type": "line", "strokeWidth": 2.5, "strokeJoin": "miter", "strokeCap": "butt"},
      "encoding": {
       "x": {"field": "x", "type": "quantitative", "scale": {"domain": [-3.4, 105.5], "nice": false, "zero": false}},
       "y": {"field": "y", "type": "quantitative", "scale": {"domain": [-3.3, 106.5], "nice": false, "zero": false}},
       "color": {"field": "s", "type": "nominal"},
       "order": {"value": null}
      }}
    ]
   }]
  }
 ]},
 {"spacing": 24, "vconcat": [
 {"spacing": 147, "hconcat": [
  {"title": {"text": "(c)", "anchor": "start", "frame": "bounds", "fontSize": 24, "fontWeight": "bold", "offset": 0, "dx": -4, "dy": 24},
   "vconcat": [{
    "title": {"text": "AUPRC IM", "frame": "group", "anchor": "middle", "fontSize": 26, "fontWeight": "normal", "offset": 23, "dx": -7},
    "width": 300, "height": 296,
    "layer": [
     {"data": {"values": [{"y": 0.313}]},
      "mark": {"type": "rule", "color": "#000", "strokeWidth": 1.2, "strokeDash": [5, 4]},
      "encoding": {
       "y": {"field": "y", "type": "quantitative", "scale": {"domain": [-0.026, 1.043], "nice": false, "zero": false}, "axis": {"title": "Precision", "values": [0,0.1,0.2,0.3,0.4,0.5,0.6,0.7,0.8,0.9,1], "labelExpr": "datum.value == 0 ? '0' : (round(datum.value*10) % 2 == 0 ? format(datum.value, '.1f') : '')", "tickSize": {"condition": {"test": "round(datum.value*10) % 2 == 0", "value": 6}, "value": 3}, "labelPadding": 7, "titlePadding": 26}}
      }},
     {"data": {"name": "c"},
      "mark": {"type": "line", "strokeWidth": 2.5, "strokeJoin": "miter", "strokeCap": "butt"},
      "encoding": {
       "x": {"field": "x", "type": "quantitative", "scale": {"domain": [-0.021, 1.0305], "nice": false, "zero": false}, "axis": {"title": "Sensitivity", "values": [0,0.1,0.2,0.3,0.4,0.5,0.6,0.7,0.8,0.9,1], "labelExpr": "datum.value == 0 ? '0' : (round(datum.value*10) % 2 == 0 ? format(datum.value, '.1f') : '')", "tickSize": {"condition": {"test": "round(datum.value*10) % 2 == 0", "value": 8}, "value": 4}, "labelPadding": 6, "titlePadding": 24}},
       "y": {"field": "y", "type": "quantitative", "scale": {"domain": [-0.026, 1.043], "nice": false, "zero": false}},
       "color": {"field": "s", "type": "nominal"},
       "order": {"value": null}
      }}
    ]
   }]
  },
  {"title": {"text": "(d)", "anchor": "start", "frame": "bounds", "fontSize": 24, "fontWeight": "bold", "offset": 0, "dx": 32, "dy": 24},
   "vconcat": [{
    "title": {"text": "AUROC IM", "frame": "group", "anchor": "middle", "fontSize": 26, "fontWeight": "normal", "offset": 23, "dx": 5},
    "width": 296, "height": 296,
    "layer": [
     {"data": {"values": [{"x": 0, "y": 0}, {"x": 100, "y": 100}]},
      "mark": {"type": "line", "color": "#333", "strokeWidth": 0.9},
      "encoding": {
       "x": {"field": "x", "type": "quantitative", "scale": {"domain": [-3.4, 105.5], "nice": false, "zero": false}, "axis": {"title": "100-Specificity", "titleFontSize": 20, "values": [0,5,10,15,20,25,30,35,40,45,50,55,60,65,70,75,80,85,90,95,100], "labelExpr": "datum.value % 20 == 0 ? datum.label : ''", "tickSize": {"condition": {"test": "datum.value % 20 == 0", "value": 10}, "value": 5}, "labelPadding": 12, "titlePadding": 19}},
       "y": {"field": "y", "type": "quantitative", "scale": {"domain": [-2.9, 105.8], "nice": false, "zero": false}, "axis": {"title": "Sensitivity", "values": [0,5,10,15,20,25,30,35,40,45,50,55,60,65,70,75,80,85,90,95,100], "labelExpr": "datum.value % 20 == 0 ? datum.label : ''", "tickSize": {"condition": {"test": "datum.value % 20 == 0", "value": 10}, "value": 5}, "labelPadding": -1.5, "titlePadding": 40.5}}
      }},
     {"data": {"name": "d"},
      "mark": {"type": "line", "strokeWidth": 2.5, "strokeJoin": "miter", "strokeCap": "butt"},
      "encoding": {
       "x": {"field": "x", "type": "quantitative", "scale": {"domain": [-3.4, 105.5], "nice": false, "zero": false}},
       "y": {"field": "y", "type": "quantitative", "scale": {"domain": [-2.9, 105.8], "nice": false, "zero": false}},
       "color": {"field": "s", "type": "nominal"},
       "order": {"value": null}
      }}
    ]
   }]
  }
 ]},
 {"spacing": 147, "hconcat": [
  {"title": {"text": "(e)", "anchor": "start", "frame": "bounds", "fontSize": 24, "fontWeight": "bold", "offset": 0, "dx": -4, "dy": 24},
   "vconcat": [{
    "title": {"text": "AUPRC UM", "frame": "group", "anchor": "middle", "fontSize": 26, "fontWeight": "normal", "offset": 46, "dx": -1},
    "width": 300, "height": 296,
    "layer": [
     {"data": {"values": [{"y": 0.0925}]},
      "mark": {"type": "rule", "color": "#000", "strokeWidth": 1.2, "strokeDash": [5, 4]},
      "encoding": {
       "y": {"field": "y", "type": "quantitative", "scale": {"domain": [-0.024, 1.046], "nice": false, "zero": false}, "axis": {"title": "Precision", "values": [0,0.1,0.2,0.3,0.4,0.5,0.6,0.7,0.8,0.9,1], "labelExpr": "datum.value == 0 ? '0' : (round(datum.value*10) % 2 == 0 ? format(datum.value, '.1f') : '')", "tickSize": {"condition": {"test": "round(datum.value*10) % 2 == 0", "value": 6}, "value": 3}, "labelPadding": 7, "titlePadding": 26}}
      }},
     {"data": {"name": "e"},
      "mark": {"type": "line", "strokeWidth": 2.5, "strokeJoin": "miter", "strokeCap": "butt"},
      "encoding": {
       "x": {"field": "x", "type": "quantitative", "scale": {"domain": [-0.0235, 1.0306], "nice": false, "zero": false}, "axis": {"title": "Sensitivity", "values": [0,0.1,0.2,0.3,0.4,0.5,0.6,0.7,0.8,0.9,1], "labelExpr": "datum.value == 0 ? '0' : (round(datum.value*10) % 2 == 0 ? format(datum.value, '.1f') : '')", "tickSize": {"condition": {"test": "round(datum.value*10) % 2 == 0", "value": 8}, "value": 4}, "labelPadding": 6, "titlePadding": 24}},
       "y": {"field": "y", "type": "quantitative", "scale": {"domain": [-0.024, 1.046], "nice": false, "zero": false}},
       "color": {"field": "s", "type": "nominal"},
       "order": {"value": null}
      }}
    ]
   }]
  },
  {"title": {"text": "(f)", "anchor": "start", "frame": "bounds", "fontSize": 24, "fontWeight": "bold", "offset": 0, "dx": 32, "dy": 24},
   "vconcat": [{
    "title": {"text": "AUROC UM", "frame": "group", "anchor": "middle", "fontSize": 26, "fontWeight": "normal", "offset": 46, "dx": 10},
    "width": 296, "height": 296,
    "layer": [
     {"data": {"values": [{"x": 0, "y": 0}, {"x": 100, "y": 100}]},
      "mark": {"type": "line", "color": "#333", "strokeWidth": 0.9},
      "encoding": {
       "x": {"field": "x", "type": "quantitative", "scale": {"domain": [-3.4, 105.5], "nice": false, "zero": false}, "axis": {"title": "100-Specificity", "titleFontSize": 20, "values": [0,5,10,15,20,25,30,35,40,45,50,55,60,65,70,75,80,85,90,95,100], "labelExpr": "datum.value % 20 == 0 ? datum.label : ''", "tickSize": {"condition": {"test": "datum.value % 20 == 0", "value": 10}, "value": 5}, "labelPadding": 12, "titlePadding": 19}},
       "y": {"field": "y", "type": "quantitative", "scale": {"domain": [-3.4, 105.9], "nice": false, "zero": false}, "axis": {"title": "Sensitivity", "values": [0,5,10,15,20,25,30,35,40,45,50,55,60,65,70,75,80,85,90,95,100], "labelExpr": "datum.value % 20 == 0 ? datum.label : ''", "tickSize": {"condition": {"test": "datum.value % 20 == 0", "value": 10}, "value": 5}, "labelPadding": -1.5, "titlePadding": 40.5}}
      }},
     {"data": {"name": "f"},
      "mark": {"type": "line", "strokeWidth": 2.5, "strokeJoin": "miter", "strokeCap": "butt"},
      "encoding": {
       "x": {"field": "x", "type": "quantitative", "scale": {"domain": [-3.4, 105.5], "nice": false, "zero": false}},
       "y": {"field": "y", "type": "quantitative", "scale": {"domain": [-3.4, 105.9], "nice": false, "zero": false}},
       "color": {"field": "s", "type": "nominal"},
       "order": {"value": null}
      }}
    ]
   }]
  }
 ]}
 ]}
]
}
